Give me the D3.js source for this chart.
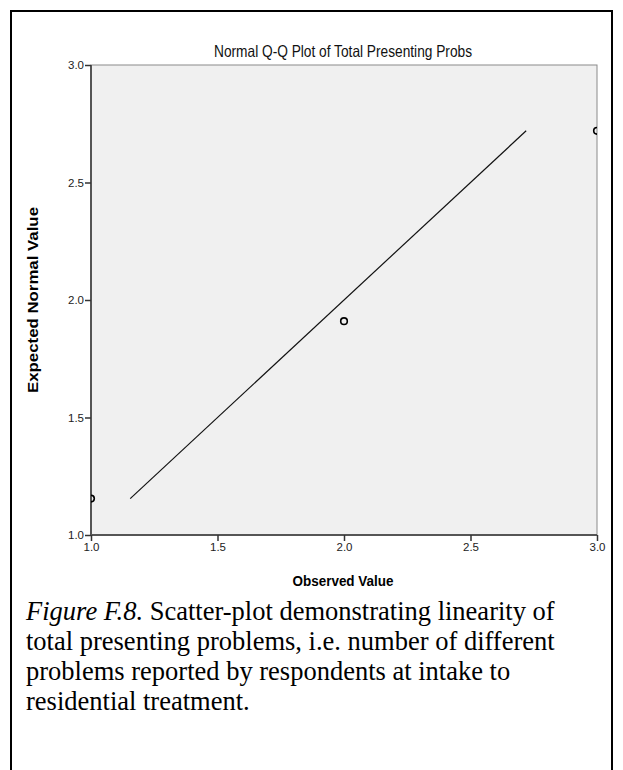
<!DOCTYPE html>
<html>
<head>
<meta charset="utf-8">
<script src="https://cdn.jsdelivr.net/npm/d3@7"></script>
<style>
  html, body { margin: 0; padding: 0; background: #fff; }
  svg { display: block; }
</style>
</head>
<body>
<svg id="canvas" width="623" height="770"></svg>
<script>
var observed = [1.0, 2.0, 3.0];
var expected = [1.155, 1.91, 2.72];
var xTicks = [1.0, 1.5, 2.0, 2.5, 3.0];
var yTicks = [1.0, 1.5, 2.0, 2.5, 3.0];
var captionLines = [
    'Scatter-plot demonstrating linearity of',
    'total presenting problems, i.e. number of different',
    'problems reported by respondents at intake to',
    'residential treatment.'
];

(function() {
    var svg = d3.select('#canvas');
    var left = 91, right = 597, top = 65, bottom = 535;

    // outer frame
    svg.append('rect')
        .attr('x', 11).attr('y', 11)
        .attr('width', 601).attr('height', 770)
        .attr('fill', 'none')
        .attr('stroke', '#000')
        .attr('stroke-width', 2);

    var x = d3.scaleLinear().domain([1, 3]).range([left, right]);
    var y = d3.scaleLinear().domain([1, 3]).range([bottom, top]);

    svg.append('rect')
        .attr('x', left).attr('y', top)
        .attr('width', right - left).attr('height', bottom - top)
        .attr('fill', '#f0f0f0')
        .attr('stroke', '#8a8a8a')
        .attr('stroke-width', 1);

    svg.append('clipPath').attr('id', 'plotclip')
        .append('rect')
        .attr('x', left).attr('y', top)
        .attr('width', right - left).attr('height', bottom - top);

    var font = '"Liberation Sans Narrow", "Liberation Sans", Arial, sans-serif';

    var xAxis = svg.append('g')
        .attr('transform', 'translate(0,' + bottom + ')')
        .call(d3.axisBottom(x).tickValues(xTicks).tickFormat(d3.format('.1f')).tickSize(6).tickPadding(2));
    var yAxis = svg.append('g')
        .attr('transform', 'translate(' + left + ',0)')
        .call(d3.axisLeft(y).tickValues(yTicks).tickFormat(d3.format('.1f')).tickSize(6).tickPadding(1));

    [xAxis, yAxis].forEach(function(g) {
        g.select('.domain').attr('stroke', '#555').attr('stroke-width', 2);
        g.selectAll('.tick line').attr('stroke', '#333').attr('stroke-width', 1.5);
        g.selectAll('.tick text')
            .attr('fill', '#222')
            .style('font-family', font)
            .style('font-size', '11.5px');
    });
    xAxis.select('.domain').attr('d', 'M' + left + ',0H' + right);
    yAxis.select('.domain').attr('d', 'M0,' + bottom + 'V' + top);

    var plot = svg.append('g').attr('clip-path', 'url(#plotclip)');

    var lo = d3.min(expected), hi = d3.max(expected);
    plot.append('line')
        .attr('x1', x(lo)).attr('y1', y(lo))
        .attr('x2', x(hi)).attr('y2', y(hi))
        .attr('stroke', '#111')
        .attr('stroke-width', 1.2);

    plot.selectAll('circle')
        .data(observed)
        .enter().append('circle')
        .attr('cx', function(d) { return x(d); })
        .attr('cy', function(d, i) { return y(expected[i]); })
        .attr('r', 3.3)
        .attr('fill', 'none')
        .attr('stroke', '#000')
        .attr('stroke-width', 1.6);

    svg.append('text')
        .attr('x', 343).attr('y', 57)
        .attr('text-anchor', 'middle')
        .attr('textLength', 258)
        .attr('lengthAdjust', 'spacingAndGlyphs')
        .attr('fill', '#111')
        .style('font-family', font)
        .style('font-size', '16.5px')
        .text('Normal Q-Q Plot of Total Presenting Probs');

    svg.append('text')
        .attr('x', 343).attr('y', 586)
        .attr('text-anchor', 'middle')
        .attr('textLength', 101)
        .attr('lengthAdjust', 'spacingAndGlyphs')
        .style('font-family', font)
        .style('font-size', '14px')
        .style('font-weight', 'bold')
        .text('Observed Value');

    svg.append('text')
        .attr('transform', 'translate(38,300) rotate(-90)')
        .attr('text-anchor', 'middle')
        .attr('textLength', 186)
        .attr('lengthAdjust', 'spacingAndGlyphs')
        .style('font-family', font)
        .style('font-size', '14px')
        .style('font-weight', 'bold')
        .text('Expected Normal Value');

    var serif = '"Liberation Serif", "Times New Roman", serif';
    var cap = svg.append('g')
        .style('font-family', serif)
        .style('font-size', '26.5px')
        .attr('fill', '#000');
    captionLines.forEach(function(line, i) {
        var t = cap.append('text').attr('x', 26).attr('y', 620 + i * 30);
        if (i === 0) {
            t.append('tspan').style('font-style', 'italic').text('Figure F.8.');
            t.append('tspan').text(' ' + line);
        } else {
            t.text(line);
        }
    });
})();
</script>
</body>
</html>
